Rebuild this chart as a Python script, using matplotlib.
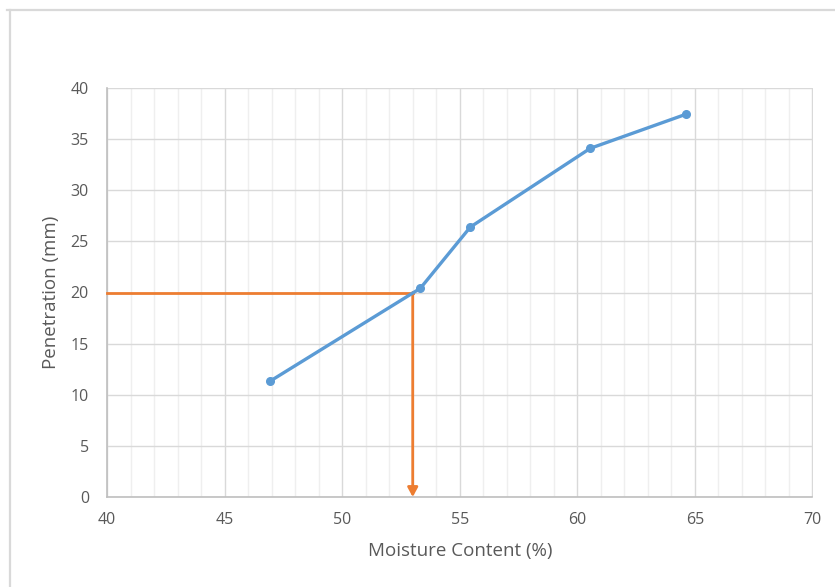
import matplotlib.pyplot as plt
from matplotlib.lines import Line2D
from matplotlib.ticker import MultipleLocator

# data
moisture = [46.95, 53.32, 55.45, 60.55, 64.64]
penetration = [11.35, 20.4, 26.4, 34.1, 37.45]
lookup_x = 53.0
lookup_y = 20.0

BLUE = "#5b9bd5"
ORANGE = "#ed7d31"
TXT = "#595959"

plt.rcParams["font.family"] = ["Open Sans", "DejaVu Sans"]

fig = plt.figure(figsize=(8.35, 5.87), dpi=100)
fig.patch.set_facecolor("white")

# chart border (only top and left visible in the crop)
fig.add_artist(Line2D([7 / 835, 1], [1 - 9.5 / 587] * 2, color="#d9d9d9", lw=1.6))
fig.add_artist(Line2D([10 / 835] * 2, [0, 1 - 9.5 / 587], color="#d9d9d9", lw=1.6))

ax = fig.add_axes([107 / 835, 1 - 497 / 587, (812.5 - 107) / 835, (497 - 88) / 587])
ax.set_xlim(40, 70)
ax.set_ylim(0, 40)
ax.xaxis.set_major_locator(MultipleLocator(5))
ax.xaxis.set_minor_locator(MultipleLocator(1))
ax.yaxis.set_major_locator(MultipleLocator(5))

ax.grid(which="minor", axis="x", color="#efefef", lw=1.0)
ax.grid(which="major", axis="both", color="#d9d9d9", lw=1.0)
ax.set_axisbelow(True)

for s in ["top", "right"]:
    ax.spines[s].set_visible(False)
for s in ["left", "bottom"]:
    ax.spines[s].set_color("#bfbfbf")
    ax.spines[s].set_linewidth(1.2)

ax.tick_params(which="both", length=0, colors=TXT, labelsize=11.5)
ax.tick_params(axis="x", pad=11)
ax.tick_params(axis="y", pad=13)

ax.plot(moisture, penetration, color=BLUE, lw=2.4, marker="o", ms=5.5,
        solid_capstyle="round", zorder=4)

ax.plot([40, lookup_x], [lookup_y, lookup_y], color=ORANGE, lw=2.0, zorder=3,
        clip_on=False)
ax.annotate("", xy=(lookup_x, 0), xytext=(lookup_x, lookup_y),
            arrowprops=dict(arrowstyle="-|>,head_length=0.55,head_width=0.3",
                            color=ORANGE, lw=2.0, shrinkA=0, shrinkB=0),
            zorder=3)

ax.set_xlabel("Moisture Content (%)", color=TXT, fontsize=13.5, labelpad=10)
ax.set_ylabel("Penetration (mm)", color=TXT, fontsize=13.5, labelpad=8)

fig.savefig("out.png", dpi=100)
